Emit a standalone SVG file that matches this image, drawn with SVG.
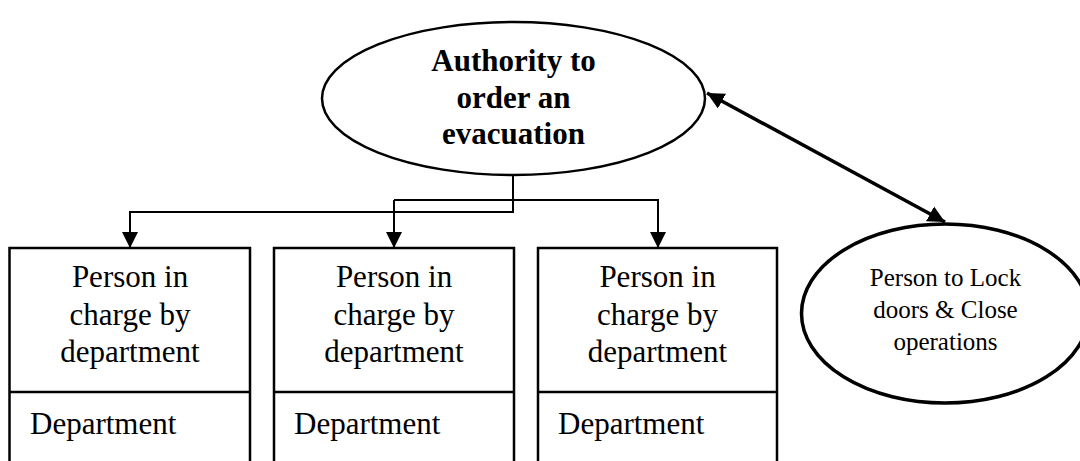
<svg xmlns="http://www.w3.org/2000/svg" width="1080" height="461" viewBox="0 0 1080 461">
<style>
text{font-family:"Liberation Serif","Times New Roman",serif;fill:#000}
.box{fill:#fff;stroke:#000;stroke-width:2.5}
.c{text-anchor:middle;font-size:31px}
.d{font-size:31px}
.b{text-anchor:middle;font-size:31px;font-weight:bold}
.s{text-anchor:middle;font-size:25px}
.conn{fill:none;stroke:#000;stroke-width:2}
.thick{fill:none;stroke:#000;stroke-width:3.5}
</style>
<defs>
<marker id="ah" markerUnits="userSpaceOnUse" markerWidth="16" markerHeight="16" refX="16" refY="8" orient="auto" viewBox="0 0 16 16">
<path d="M0,0 L16,8 L0,16 Z" fill="#000"/>
</marker>
<marker id="ah2" markerUnits="userSpaceOnUse" markerWidth="18" markerHeight="18" refX="17" refY="9" orient="auto-start-reverse" viewBox="0 0 18 18">
<path d="M0,0.5 L17,9 L0,17.5 Z" fill="#000"/>
</marker>
</defs>
<rect width="1080" height="461" fill="#fff"/>
<g id="authority">
<ellipse cx="513.5" cy="98.5" rx="191.5" ry="76.5" fill="#fff" stroke="#000" stroke-width="2.5"/>
<text class="b" x="513.5" y="71">Authority to</text>
<text class="b" x="513.5" y="107.5">order an</text>
<text class="b" x="513.5" y="144">evacuation</text>
</g>
<g id="dept1">
<rect class="box" x="9.5" y="248" width="240.5" height="230"/>
<line x1="9.5" y1="392" x2="250" y2="392" stroke="#000" stroke-width="2.5"/>
<text class="c" x="130" y="287">Person in</text>
<text class="c" x="130" y="324.5">charge by</text>
<text class="c" x="130" y="362">department</text>
<text class="d" x="30" y="433.5">Department</text>
</g>
<g id="dept2">
<rect class="box" x="274" y="248" width="240" height="230"/>
<line x1="274" y1="392" x2="514" y2="392" stroke="#000" stroke-width="2.5"/>
<text class="c" x="394" y="287">Person in</text>
<text class="c" x="394" y="324.5">charge by</text>
<text class="c" x="394" y="362">department</text>
<text class="d" x="294" y="433.5">Department</text>
</g>
<g id="dept3">
<rect class="box" x="538" y="248" width="239" height="230"/>
<line x1="538" y1="392" x2="777" y2="392" stroke="#000" stroke-width="2.5"/>
<text class="c" x="657.5" y="287">Person in</text>
<text class="c" x="657.5" y="324.5">charge by</text>
<text class="c" x="657.5" y="362">department</text>
<text class="d" x="558" y="433.5">Department</text>
</g>
<g id="lock">
<ellipse cx="945" cy="313.5" rx="143.5" ry="89.5" fill="#fff" stroke="#000" stroke-width="3.5"/>
<text class="s" x="945.5" y="285.5">Person to Lock</text>
<text class="s" x="945.5" y="318">doors &amp; Close</text>
<text class="s" x="945.5" y="349.5">operations</text>
</g>
<g id="connectors">
<path class="conn" d="M513,175 V212 H130 V248" marker-end="url(#ah)"/>
<path class="conn" d="M394,200 H658 V248" marker-end="url(#ah)"/>
<path class="conn" d="M394,200 V248" marker-end="url(#ah)"/>
<path class="thick" d="M707,93 L945,222" marker-start="url(#ah2)" marker-end="url(#ah2)"/>
</g>
</svg>
